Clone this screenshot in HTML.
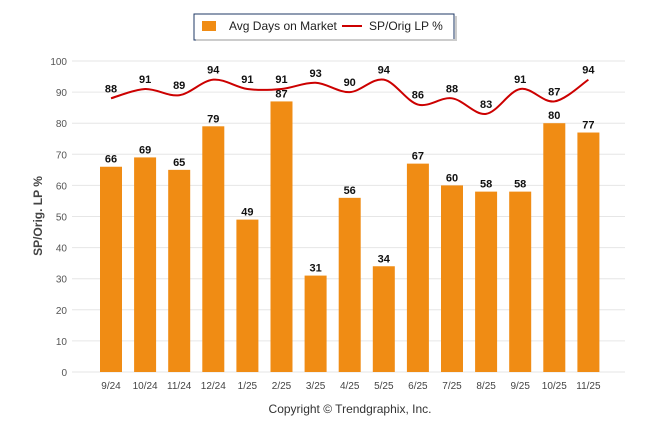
<!DOCTYPE html>
<html><head><meta charset="utf-8"><style>
body{margin:0;background:#fff;width:646px;height:434px;overflow:hidden;font-family:"Liberation Sans",sans-serif}
</style></head><body>
<svg id="c" width="646" height="434" xmlns="http://www.w3.org/2000/svg" font-family="Liberation Sans, sans-serif">
<g>
<rect x="194" y="14" width="260" height="26" fill="#fff" stroke="#1f3864" stroke-width="1"/>
<rect x="196" y="39" width="259" height="2" fill="#ccc"/>
<rect x="455" y="16" width="2" height="25" fill="#ccc"/>
<rect x="202" y="21" width="14" height="10" fill="#f08c14"/>
<text x="229" y="30" font-size="12" fill="#222">Avg Days on Market</text>
<line x1="342" y1="26" x2="362" y2="26" stroke="#cc0000" stroke-width="2"/>
<text x="369" y="30" font-size="12" fill="#222">SP/Orig LP %</text>
</g>
<text transform="translate(42,216) rotate(-90)" text-anchor="middle" font-size="12" font-weight="bold" fill="#444">SP/Orig. LP %</text>
<text x="350" y="413" text-anchor="middle" font-size="12" fill="#333">Copyright © Trendgraphix, Inc.</text>
<g id="grid"></g><g id="bars"></g><g id="line"></g><g id="labels"></g>
</svg>
<script>
const categories=["9/24","10/24","11/24","12/24","1/25","2/25","3/25","4/25","5/25","6/25","7/25","8/25","9/25","10/25","11/25"];
const daysValues=[66,69,65,79,49,87,31,56,34,67,60,58,58,80,77];
const spValues=[88,91,89,94,91,91,93,90,94,86,88,83,91,87,94];
const yTicks=[0,10,20,30,40,50,60,70,80,90,100];
const NS="http://www.w3.org/2000/svg";
const y0=372,y1=61,x0=72,x1=625;
function ys(v){return y0-(v/100)*(y0-y1);}
function xs(i){return 111+i*34.1;}
function mk(t,a,p){const e=document.createElementNS(NS,t);for(const k in a)e.setAttribute(k,a[k]);p.appendChild(e);return e;}
const grid=document.getElementById('grid'),bars=document.getElementById('bars'),line=document.getElementById('line'),labels=document.getElementById('labels');
yTicks.forEach(v=>{
 const l=mk('line',{x1:x0,x2:x1,y1:ys(v),y2:ys(v),stroke:'#e6e6e6','stroke-width':1},grid);
 
 
 const t=mk('text',{x:67,y:ys(v)+4,'text-anchor':'end','font-size':10,fill:'#555'},grid);t.textContent=v;
 
 
});
categories.forEach((c,i)=>{
 const t=mk('text',{x:xs(i),y:389,'text-anchor':'middle','font-size':10,fill:'#444'},grid);t.textContent=c;
 
 
 const b=mk('rect',{x:xs(i)-11,y:ys(daysValues[i]),width:22,height:y0-ys(daysValues[i]),fill:'#f08c14'},bars);
 
 
 const bl=mk('text',{x:xs(i),y:ys(daysValues[i])-4,'text-anchor':'middle','font-size':11,'font-weight':'bold',fill:'#111'},labels);bl.textContent=daysValues[i];
 
 
 const sl=mk('text',{x:xs(i),y:ys(spValues[i])-6,'text-anchor':'middle','font-size':11,'font-weight':'bold',fill:'#111'},labels);sl.textContent=spValues[i];
 
 
});
const pts=spValues.map((v,i)=>[xs(i),ys(v)]);
let d='M'+pts[0][0]+','+pts[0][1];
for(let i=0;i<pts.length-1;i++){
 const p0=pts[Math.max(0,i-1)],p1=pts[i],p2=pts[i+1],p3=pts[Math.min(pts.length-1,i+2)];
 const c1=[p1[0]+(p2[0]-p0[0])/6,p1[1]+(p2[1]-p0[1])/6],c2=[p2[0]-(p3[0]-p1[0])/6,p2[1]-(p3[1]-p1[1])/6];
 d+=' C'+c1+' '+c2+' '+p2;
}
const path=mk('path',{d:d,fill:'none',stroke:'#cc0000','stroke-width':2},line);


</script>
</body></html>
